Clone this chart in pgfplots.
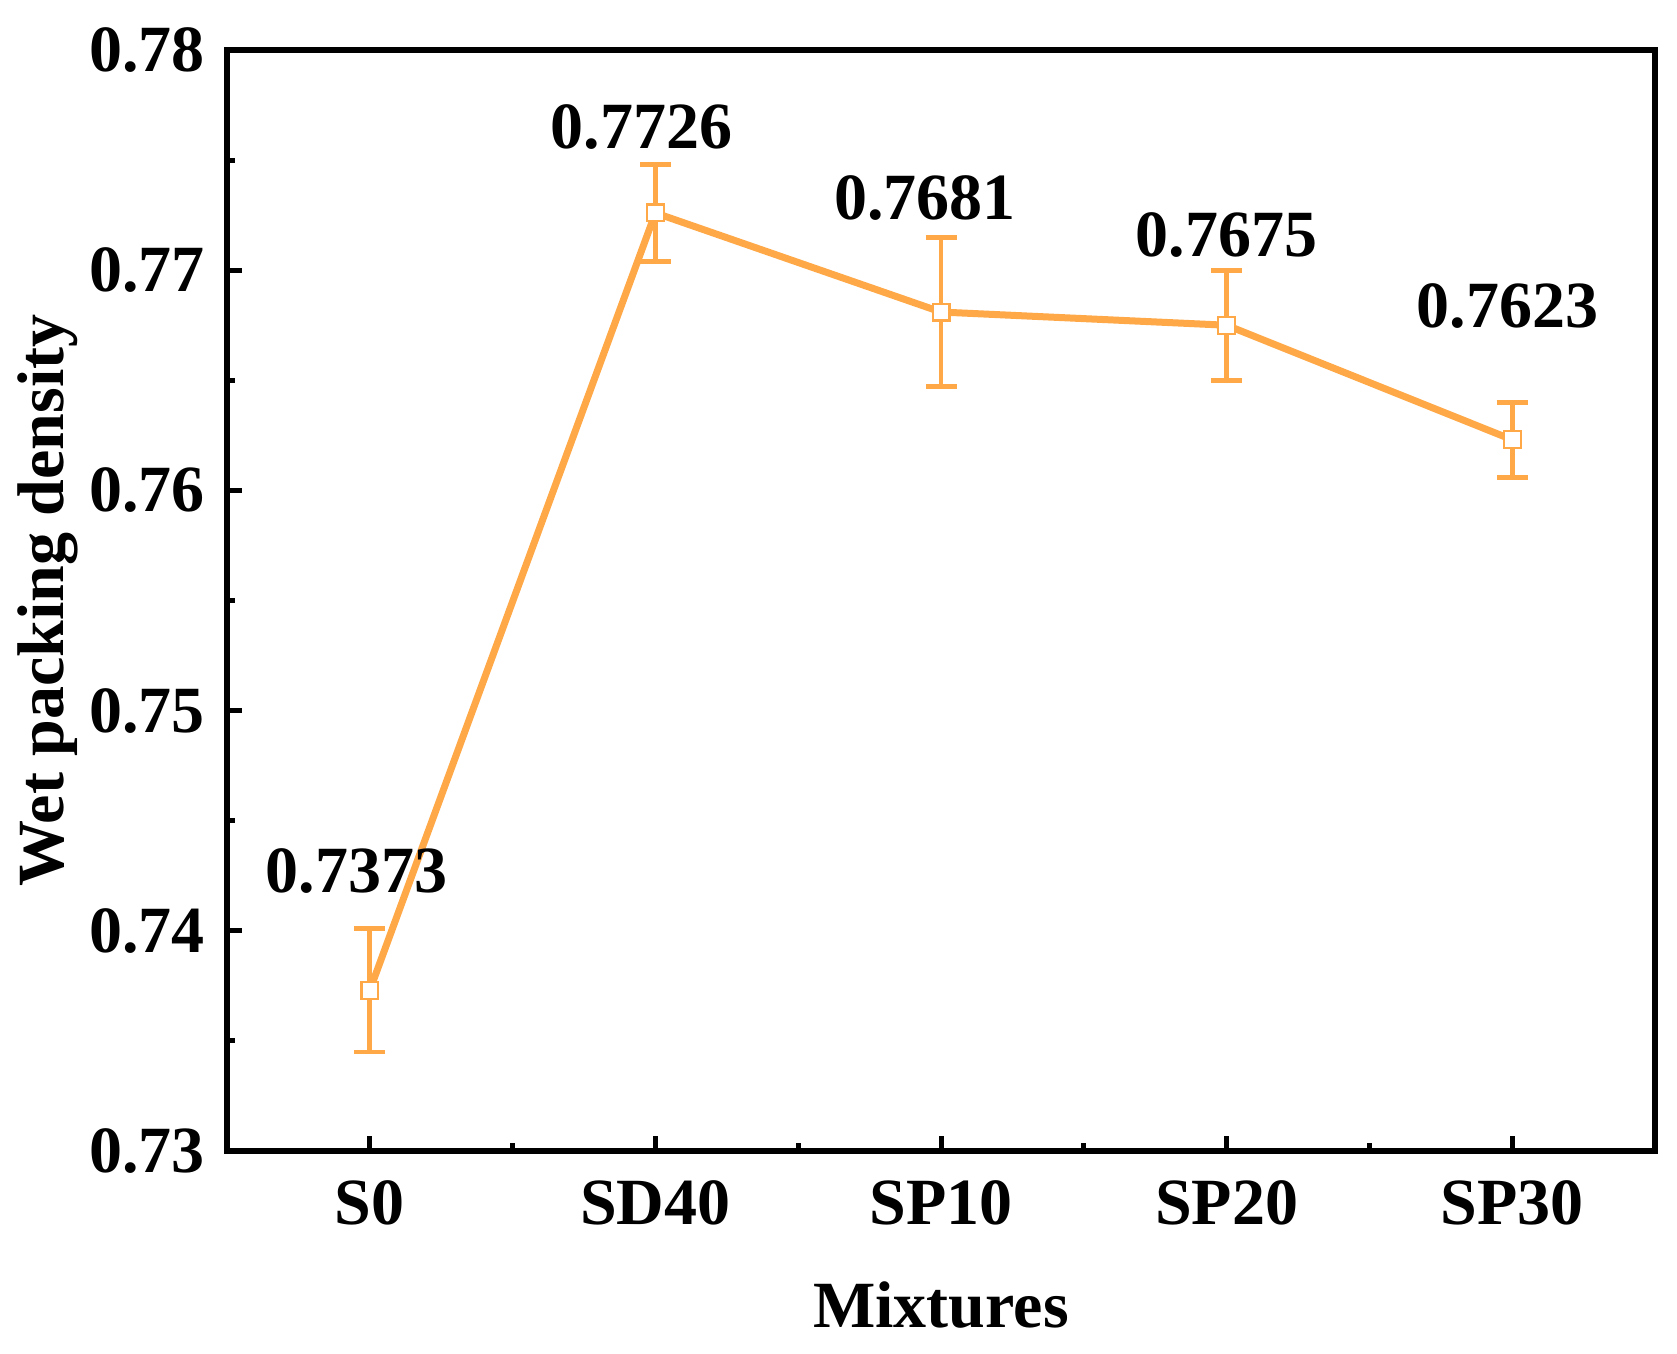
\documentclass[border=0pt]{standalone}
\usepackage{pgfplots}
\pgfplotsset{compat=1.18}
\usepackage{fontspec}
\setmainfont{Liberation Serif}
\definecolor{wpd}{RGB}{255,168,72}

\begin{document}
\begin{tikzpicture}
\begin{axis}[
  scale only axis,
  width=714pt, height=550.5pt,
  xmin=-0.5, xmax=4.5,
  ymin=0.73, ymax=0.78,
  xtick={0,1,2,3,4},
  xticklabels={S0,SD40,SP10,SP20,SP30},
  minor xtick={0.5,1.5,2.5,3.5},
  ytick={0.73,0.74,0.75,0.76,0.77,0.78},
  minor y tick num=1,
  yticklabel style={/pgf/number format/fixed, /pgf/number format/fixed zerofill,
    /pgf/number format/precision=2, anchor=east, xshift=-11pt, inner sep=0pt},
  /pgf/number format/assume math mode=true,
  tick align=inside,
  tick pos=left,
  major tick length=7.5pt,
  minor tick length=4pt,
  every tick/.style={black, line width=2.5pt},
  axis line style={line width=3pt},
  font=\fontsize{33}{40}\selectfont\bfseries,
  xticklabel style={anchor=base, yshift=-36.5pt, inner sep=0pt},
  xlabel={Mixtures},
  ylabel={Wet packing density},
  xlabel style={at={(rel axis cs:0.5,0)}, anchor=center, yshift=-77pt},
  ylabel style={at={(axis description cs:-0.1254,0.5)}, anchor=center},
  clip=false,
]
\addplot[
  color=wpd, line width=3.5pt,
  mark=square*, mark size=4.2pt,
  mark options={fill=white, draw=wpd, line width=1.1pt, solid},
  error bars/.cd,
    y dir=both, y explicit,
    error bar style={line width=2.4pt, color=wpd},
    error mark options={line width=2.4pt, color=wpd, mark size=7.75pt, rotate=90},
] table[x=x, y=y, y error=e] {
x  y       e
0  0.7373  0.0028
1  0.7726  0.0022
2  0.7681  0.0034
3  0.7675  0.0025
4  0.7623  0.0017
};
% value labels above each point
\node[anchor=base] at (axis cs:-0.047,0.74172) {0.7373};
\node[anchor=base] at (axis cs:0.952,0.77554) {0.7726};
\node[anchor=base] at (axis cs:1.944,0.77230) {0.7681};
\node[anchor=base] at (axis cs:2.999,0.77060) {0.7675};
\node[anchor=base] at (axis cs:3.984,0.76740) {0.7623};
\end{axis}
\path ([xshift=-113.5pt,yshift=-101pt]current axis.south west)
  rectangle ([xshift=11pt,yshift=25pt]current axis.north east);
\end{tikzpicture}
\end{document}
